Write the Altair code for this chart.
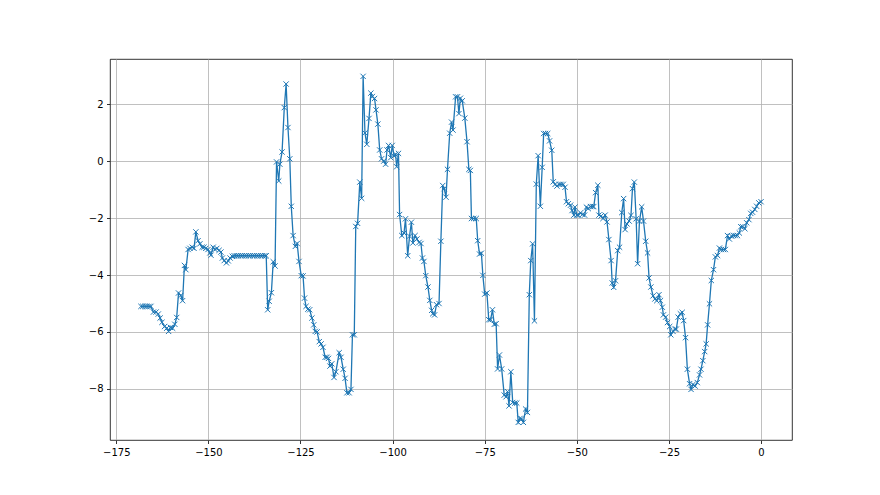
import altair as alt
import pandas as pd

# x positions of the samples
xs = [
    -168.3, -167.8, -167.2, -166.7, -166.1, -165.6, -164.9, -164.2, -163.6, -163.1,
    -162.6, -161.9, -161.3, -160.8, -160.3, -159.7, -159.1, -158.6, -158.1, -157.5,
    -157.0, -156.5, -156.1, -155.5, -155.0, -154.4, -153.9, -153.4, -152.8, -152.3,
    -151.7, -151.2, -150.7, -150.1, -149.6, -149.3, -148.7, -148.2, -147.7, -147.1,
    -146.6, -146.2, -145.7, -145.1, -144.6, -144.1, -143.5, -143.0, -142.4, -141.9,
    -141.3, -140.8, -140.2, -139.7, -139.1, -138.6, -138.0, -137.5, -136.9, -136.4,
    -135.8, -135.3, -134.7, -134.3, -133.9, -133.5, -132.9, -132.4, -131.9, -131.5,
    -130.9, -130.6, -130.0, -129.4, -128.9, -128.4, -127.9, -127.5, -127.0, -126.4,
    -125.9, -125.4, -124.8, -124.3, -123.9, -123.5, -123.0, -122.5, -121.9, -121.4,
    -121.0, -120.5, -119.9, -119.4, -118.9, -118.3, -117.8, -117.4, -117.0, -116.5,
    -115.9, -115.4, -114.5, -114.0, -113.4, -112.9, -112.4, -111.8, -111.3, -110.9,
    -110.4, -110.0, -109.5, -108.9, -108.4, -108.0, -107.5, -107.0, -106.4, -105.9,
    -105.5, -104.9, -104.5, -104.0, -103.5, -103.0, -102.4, -101.9, -101.5, -101.1,
    -100.5, -100.1, -99.6, -99.2, -98.9, -98.4, -98.1, -97.5, -96.9, -96.5,
    -95.9, -95.4, -94.9, -94.5, -93.9, -93.4, -92.8, -92.3, -91.9, -91.5,
    -91.0, -90.4, -89.9, -89.4, -89.1, -88.6, -88.1, -87.4, -86.9, -86.4,
    -86.0, -85.5, -85.1, -84.5, -84.0, -83.6, -82.9, -82.4, -82.0, -81.6,
    -81.1, -80.4, -79.8, -79.3, -78.9, -78.6, -78.0, -77.3, -76.9, -76.4,
    -75.9, -75.5, -75.0, -74.4, -73.9, -73.4, -72.9, -72.4, -71.9, -71.5,
    -71.0, -70.4, -69.7, -69.2, -68.8, -68.4, -67.9, -67.4, -66.8, -66.3,
    -65.9, -65.4, -65.0, -64.5, -63.9, -63.4, -62.9, -62.5, -62.0, -61.5,
    -61.0, -60.5, -59.9, -59.4, -59.0, -58.5, -57.9, -57.4, -56.8, -56.4,
    -55.9, -55.4, -54.8, -54.3, -53.7, -53.2, -52.8, -52.3, -51.7, -51.3,
    -50.8, -50.5, -50.0, -49.6, -49.0, -48.5, -47.9, -47.4, -46.9, -46.3,
    -45.8, -45.4, -44.9, -44.3, -44.0, -43.4, -42.9, -42.3, -41.8, -41.3,
    -40.7, -40.4, -40.0, -39.5, -38.9, -38.4, -37.8, -37.3, -36.9, -36.4,
    -35.8, -35.3, -34.9, -34.4, -33.9, -33.5, -33.0, -32.4, -31.9, -31.3,
    -30.8, -30.4, -29.9, -29.3, -28.8, -28.3, -27.7, -27.3, -26.8, -26.5,
    -25.9, -25.4, -24.8, -24.5, -23.9, -23.4, -23.0, -22.5, -21.9, -21.4,
    -21.0, -20.5, -20.0, -19.4, -19.0, -18.5, -17.9, -17.3, -16.7, -16.3,
    -15.8, -15.3, -14.9, -14.5, -14.0, -13.5, -12.9, -12.4, -11.8, -11.3,
    -10.8, -10.2, -9.7, -9.1, -8.6, -8.0, -7.5, -7.0, -6.4, -5.9,
    -5.5, -5.0, -4.4, -3.9, -3.3, -2.8, -2.3, -1.7, -1.2, -0.6,
    0.0,
]

# sample values
ys = [
    -5.10, -5.10, -5.10, -5.10, -5.10, -5.10, -5.30, -5.30, -5.37, -5.51,
    -5.66, -5.81, -5.87, -5.98, -5.84, -5.87, -5.73, -5.49, -4.63, -4.72,
    -4.90, -3.66, -3.81, -3.10, -3.06, -3.02, -3.06, -2.48, -2.79, -2.90,
    -3.02, -3.02, -3.06, -3.10, -3.22, -3.30, -3.02, -3.10, -3.06, -3.13,
    -3.19, -3.40, -3.49, -3.57, -3.50, -3.40, -3.34, -3.32, -3.32, -3.32,
    -3.32, -3.32, -3.32, -3.32, -3.32, -3.32, -3.32, -3.32, -3.32, -3.32,
    -3.32, -3.32, -3.32, -3.32, -5.22, -4.92, -4.62, -3.53, -3.68, -0.02,
    -0.69, -0.10, 0.33, 1.89, 2.72, 1.19, 0.09, -1.58, -2.61, -2.99,
    -2.89, -3.52, -4.02, -4.03, -4.81, -5.10, -5.20, -5.22, -5.51, -5.75,
    -5.98, -6.00, -6.34, -6.42, -6.54, -6.89, -6.89, -6.93, -7.20, -7.12,
    -7.60, -7.40, -6.73, -6.89, -7.31, -7.63, -8.14, -8.14, -8.02, -6.10,
    -6.10, -2.29, -2.18, -0.73, -1.30, 2.99, 1.00, 0.60, 1.51, 2.40,
    2.28, 2.21, 1.81, 1.31, 0.40, 0.09, 0.01, -0.10, 0.40, 0.56,
    0.13, 0.56, 0.19, 0.25, -0.19, 0.28, -1.87, -2.61, -2.52, -2.02,
    -3.32, -2.63, -2.14, -2.87, -2.61, -2.73, -2.85, -2.89, -3.40, -3.52,
    -4.02, -4.42, -4.89, -5.24, -5.36, -5.40, -5.04, -5.00, -2.81, -0.85,
    -0.96, -1.26, -0.28, 0.99, 1.38, 1.10, 2.27, 2.27, 1.68, 2.22,
    2.13, 1.52, 0.69, -0.28, -0.32, -2.01, -2.01, -2.01, -2.79, -3.26,
    -3.23, -4.01, -4.67, -4.63, -5.57, -5.57, -5.22, -5.73, -5.71, -7.30,
    -6.81, -7.30, -8.22, -8.28, -8.10, -8.60, -7.40, -8.48, -8.50, -8.50,
    -9.18, -9.04, -9.06, -9.18, -8.71, -8.83, -4.69, -3.49, -2.90, -5.61,
    -0.80, 0.20, -1.58, -0.21, 0.98, 0.98, 0.98, 0.72, 0.39, -0.72,
    -0.81, -0.87, -0.81, -0.81, -0.81, -0.91, -1.42, -1.49, -1.54, -1.73,
    -1.89, -1.61, -1.89, -1.89, -1.81, -1.87, -1.89, -1.61, -1.66, -1.59,
    -1.59, -1.59, -1.10, -0.84, -1.89, -1.92, -2.01, -1.89, -2.13, -2.75,
    -3.49, -4.28, -4.43, -4.20, -3.14, -3.02, -1.80, -1.31, -2.40, -2.20,
    -2.10, -1.90, -0.96, -0.73, -2.02, -3.60, -2.10, -1.60, -2.10, -2.81,
    -3.22, -4.10, -4.42, -4.73, -4.84, -4.90, -4.69, -4.90, -5.13, -5.40,
    -5.48, -5.67, -5.81, -6.10, -5.98, -5.90, -5.90, -5.48, -5.36, -5.31,
    -5.60, -6.20, -7.31, -7.82, -8.02, -7.85, -7.90, -7.78, -7.51, -7.31,
    -7.01, -6.69, -6.42, -5.75, -5.01, -4.19, -3.81, -3.36, -3.31, -3.05,
    -3.10, -3.10, -3.10, -2.61, -2.73, -2.63, -2.61, -2.61, -2.61, -2.52,
    -2.30, -2.30, -2.37, -2.16, -2.05, -1.83, -1.79, -1.69, -1.58, -1.46,
    -1.42,
]

x_ticks = [-175, -150, -125, -100, -75, -50, -25, 0]
y_ticks = [-8, -6, -4, -2, 0, 2]

df = pd.DataFrame({"x": xs, "y": ys, "i": list(range(len(xs)))})

color = "#1f77b4"

x_enc = alt.X(
    "x:Q",
    scale=alt.Scale(domain=[-176.7, 8.4], nice=False, zero=False),
    axis=alt.Axis(values=x_ticks, title=None, format="d"),
)
y_enc = alt.Y(
    "y:Q",
    scale=alt.Scale(domain=[-9.8, 3.6], nice=False, zero=False),
    axis=alt.Axis(values=y_ticks, title=None, format="d"),
)

base = alt.Chart(df)

line = base.mark_line(color=color, strokeWidth=1.3).encode(
    x=x_enc, y=y_enc, order="i:Q"
)

pts = base.mark_point(
    shape="M-1,-1L1,1M-1,1L1,-1",
    filled=False,
    color=color,
    strokeWidth=1,
    size=28,
    opacity=1,
).encode(x=x_enc, y=y_enc)

chart = (
    alt.layer(line, pts)
    .properties(
        width=682,
        height=381,
        autosize=alt.AutoSizeParams(type="none"),
        padding={"left": 102, "top": 51, "right": 80, "bottom": 47},
        background="white",
    )
    .configure_view(stroke="black", strokeWidth=0.8)
    .configure_axis(
        domain=False,
        grid=True,
        gridColor="#b0b0b0",
        gridWidth=0.8,
        tickColor="black",
        tickSize=3.5,
        tickWidth=0.8,
        labelFont="DejaVu Sans",
        labelFontSize=10,
        labelColor="black",
        labelPadding=3.5,
    )
)

chart.save("out.html", embed_options={"renderer": "svg", "actions": False})
